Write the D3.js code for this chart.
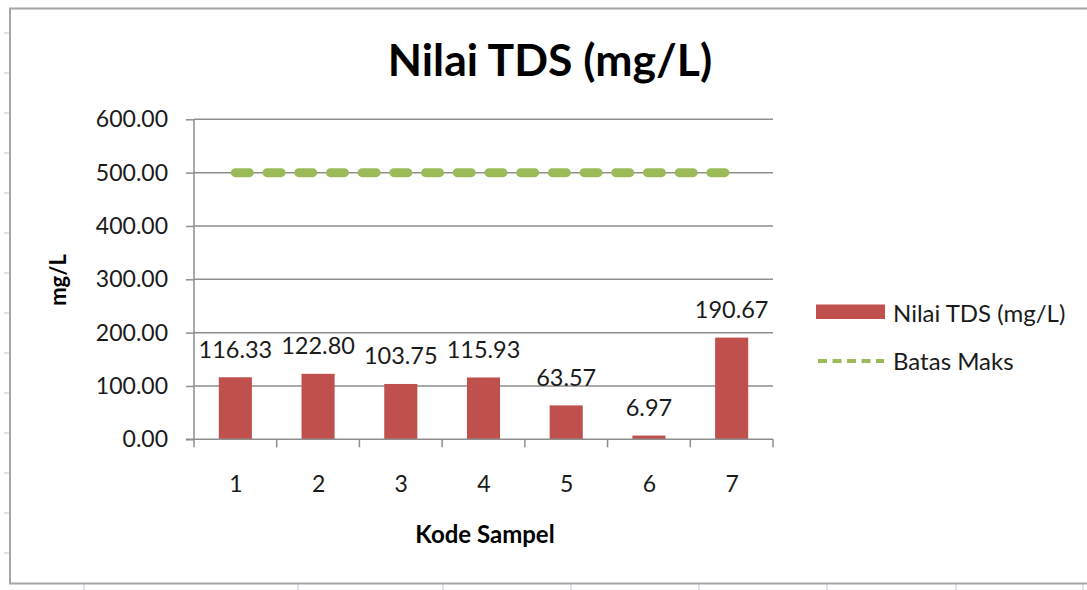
<!DOCTYPE html>
<html>
<head>
    <meta charset="utf-8">
    <title>Nilai TDS (mg/L)</title>
    <style type="text/css">
        body{
            margin: 0;
            background-color: #fff;
        }
        .axis path, .axis line, .grid line{
            stroke: #8e8e8e;
            stroke-width: 1.5px;
        }
        .axis text{
            font-family: Lato, sans-serif;
            font-size: 23px;
            fill: #1a1a1a;
        }
        .label{
            font-family: Lato, sans-serif;
            font-size: 23.5px;
            fill: #1a1a1a;
        }
        .legendText{
            font-family: Lato, sans-serif;
            font-size: 24px;
            fill: #1a1a1a;
        }
    </style>
    <script type="text/javascript" src="https://cdn.jsdelivr.net/npm/d3@7/dist/d3.min.js"></script>
</head>
<body>
    <div id="chart"></div>

    <script type="text/javascript">
        // data
        var kode = ['1', '2', '3', '4', '5', '6', '7'];
        var nilaiTDS = [116.33, 122.80, 103.75, 115.93, 63.57, 6.97, 190.67];
        var batasMaks = [500, 500, 500, 500, 500, 500, 500];
        var yTicks = [0, 100, 200, 300, 400, 500, 600];
        var seriesNames = ['Nilai TDS (mg/L)', 'Batas Maks'];

        var width = 1087, height = 590;
        var plot = {left: 194, right: 773, top: 119.3, bottom: 439.3};

        var svg = d3.select('#chart')
            .append('svg')
            .attr('width', width)
            .attr('height', height);

        // spreadsheet cell marks around the chart frame
        var sheet = svg.append('g').attr('stroke', '#d3d9e6').attr('stroke-width', 1.5);
        sheet.selectAll('.row')
            .data(d3.range(33, 560, 40))
            .enter().append('line')
            .attr('x1', 4).attr('x2', 10)
            .attr('y1', function(d){ return d; })
            .attr('y2', function(d){ return d; });
        sheet.selectAll('.col')
            .data([84, 298, 443, 571, 699, 827, 956, 1083])
            .enter().append('line')
            .attr('x1', function(d){ return d; })
            .attr('x2', function(d){ return d; })
            .attr('y1', 584).attr('y2', 590);

        // chart frame
        svg.append('rect')
            .attr('x', 10).attr('y', 8.5)
            .attr('width', 1090).attr('height', 575)
            .attr('fill', '#fff')
            .attr('stroke', '#a6a6a6')
            .attr('stroke-width', 2);

        var xScale = d3.scaleBand()
            .domain(kode)
            .range([plot.left, plot.right])
            .paddingInner(0.6)
            .paddingOuter(0.3);

        var xPoint = d3.scalePoint()
            .domain(kode)
            .range([plot.left, plot.right])
            .padding(0.5);

        var yScale = d3.scaleLinear()
            .domain([0, 600])
            .range([plot.bottom, plot.top]);

        // gridlines
        svg.append('g')
            .attr('class', 'grid')
            .selectAll('line')
            .data(yTicks.slice(1))
            .enter().append('line')
            .attr('x1', plot.left)
            .attr('x2', plot.right)
            .attr('y1', function(d){ return yScale(d); })
            .attr('y2', function(d){ return yScale(d); });

        // bars
        svg.selectAll('.bar')
            .data(nilaiTDS)
            .enter()
            .append('rect')
            .attr('class', 'bar')
            .attr('x', function(d, i){ return xScale(kode[i]); })
            .attr('width', xScale.bandwidth())
            .attr('y', function(d){ return yScale(d); })
            .attr('height', function(d){ return yScale(0) - yScale(d); })
            .attr('fill', '#c0504d');

        // data labels
        svg.selectAll('.label')
            .data(nilaiTDS)
            .enter()
            .append('text')
            .attr('class', 'label')
            .attr('x', function(d, i){ return xPoint(kode[i]); })
            .attr('y', function(d){ return yScale(d) - 19.5; })
            .attr('text-anchor', 'middle')
            .text(function(d){ return d3.format('.2f')(d); });

        // axes
        var yAxis = d3.axisLeft(yScale)
            .tickValues(yTicks)
            .tickSize(8)
            .tickPadding(18)
            .tickFormat(d3.format('.2f'));

        var yAxisG = svg.append('g')
            .attr('class', 'axis')
            .attr('transform', 'translate(' + plot.left + ',0)')
            .call(yAxis);
        yAxisG.select('.domain').attr('d', 'M0,' + plot.top + 'V' + (plot.bottom + 8));

        var xEdges = d3.scaleLinear()
            .domain([0, kode.length])
            .range([plot.left, plot.right]);

        var xAxis = d3.axisBottom(xPoint)
            .tickSize(0)
            .tickPadding(53);

        var xAxisG = svg.append('g')
            .attr('class', 'axis')
            .attr('transform', 'translate(0,' + plot.bottom + ')')
            .call(xAxis);
        xAxisG.select('.domain').attr('d', 'M' + (plot.left - 8) + ',0H' + plot.right);
        xAxisG.selectAll('.edge')
            .data(d3.range(1, kode.length + 1))
            .enter().append('line')
            .attr('x1', function(d){ return xEdges(d); })
            .attr('x2', function(d){ return xEdges(d); })
            .attr('y1', 0).attr('y2', 8);
        xAxisG.selectAll('.tick text').attr('dy', 0);

        // max limit line
        var line = d3.line()
            .x(function(d, i){ return xPoint(kode[i]); })
            .y(function(d){ return yScale(d); });

        svg.append('path')
            .datum(batasMaks)
            .attr('d', line)
            .attr('fill', 'none')
            .attr('stroke', '#9bbb59')
            .attr('stroke-width', 9)
            .attr('stroke-linecap', 'round')
            .attr('stroke-dasharray', '14,17.7');

        // titles
        svg.append('text')
            .attr('x', 550).attr('y', 76)
            .attr('text-anchor', 'middle')
            .style('font-family', 'Lato, sans-serif')
            .style('font-weight', 'bold')
            .style('font-size', '44.5px')
            .text('Nilai TDS (mg/L)');

        svg.append('text')
            .attr('x', 485).attr('y', 543)
            .attr('text-anchor', 'middle')
            .style('font-family', 'Lato, sans-serif')
            .style('font-weight', 'bold')
            .style('font-size', '24px')
            .text('Kode Sampel');

        svg.append('text')
            .attr('transform', 'translate(66,280) rotate(-90)')
            .attr('text-anchor', 'middle')
            .style('font-family', 'Lato, sans-serif')
            .style('font-weight', 'bold')
            .style('font-size', '22px')
            .text('mg/L');

        // legend
        var legend = svg.append('g').attr('transform', 'translate(816,0)');
        legend.append('rect')
            .attr('x', 0).attr('y', 304.5)
            .attr('width', 69).attr('height', 14.5)
            .attr('fill', '#c0504d');
        legend.append('line')
            .attr('x1', 2).attr('x2', 68)
            .attr('y1', 361).attr('y2', 361)
            .attr('stroke', '#9bbb59')
            .attr('stroke-width', 4)
            .attr('stroke-dasharray', '9,5.5');
        legend.selectAll('.legendText')
            .data(seriesNames)
            .enter().append('text')
            .attr('class', 'legendText')
            .attr('x', 77)
            .attr('y', function(d, i){ return 321.5 + i * 48; })
            .text(function(d){ return d; });
    </script>
</body>
</html>
